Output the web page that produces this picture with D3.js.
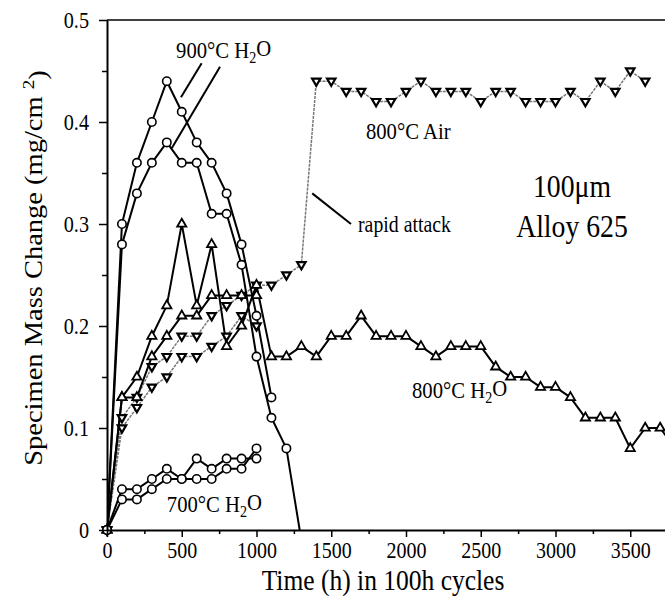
<!DOCTYPE html>
<html>
<head>
<meta charset="utf-8">
<script src="https://cdn.jsdelivr.net/npm/d3@7/dist/d3.min.js"></script>
<style>
  body { margin: 0; background: #fff; }
  svg { display: block; font-family: 'Liberation Serif', 'Times New Roman', serif; }
</style>
</head>
<body>
<div id="container"></div>
<script>
// one cycle = 100 h
const hours = [0, 100, 200, 300, 400, 500, 600, 700, 800, 900, 1000, 1100, 1200, 1300,
  1400, 1500, 1600, 1700, 1800, 1900, 2000, 2100, 2200, 2300, 2400, 2500, 2600, 2700,
  2800, 2900, 3000, 3100, 3200, 3300, 3400, 3500, 3600, 3700, 3800]

const h2o900A = [0, 0.30, 0.36, 0.40, 0.44, 0.41, 0.38, 0.36, 0.33, 0.28, 0.21, 0.13]
const h2o900B = [0, 0.28, 0.33, 0.36, 0.38, 0.36, 0.36, 0.31, 0.31, 0.26, 0.17, 0.11, 0.08, -0.01]
const h2o700A = [0, 0.04, 0.04, 0.05, 0.06, 0.05, 0.07, 0.06, 0.07, 0.07, 0.07]
const h2o700B = [0, 0.03, 0.03, 0.04, 0.05, 0.05, 0.05, 0.05, 0.06, 0.06, 0.08]
const h2o800A = [0, 0.13, 0.15, 0.19, 0.22, 0.30, 0.22, 0.28, 0.18, 0.20, 0.24, 0.17, 0.17,
  0.18, 0.17, 0.19, 0.19, 0.21, 0.19, 0.19, 0.19, 0.18, 0.17, 0.18, 0.18, 0.18, 0.16, 0.15,
  0.15, 0.14, 0.14, 0.13, 0.11, 0.11, 0.11, 0.08, 0.10, 0.10, 0.08]
const h2o800B = [0, 0.13, 0.13, 0.17, 0.19, 0.21, 0.21, 0.23, 0.23, 0.23, 0.23]
const air800A = [0, 0.11, 0.13, 0.16, 0.17, 0.19, 0.19, 0.21, 0.22, 0.23, 0.24, 0.24, 0.25,
  0.26, 0.44, 0.44, 0.43, 0.43, 0.42, 0.42, 0.43, 0.44, 0.43, 0.43, 0.43, 0.42, 0.43, 0.43,
  0.42, 0.42, 0.42, 0.43, 0.42, 0.44, 0.43, 0.45, 0.44]
const air800B = [0, 0.10, 0.12, 0.14, 0.15, 0.17, 0.17, 0.18, 0.19, 0.21, 0.20]

const xTicks = [0, 500, 1000, 1500, 2000, 2500, 3000, 3500]
const xMinor = [250, 750, 1250, 1750, 2250, 2750, 3250, 3750]
const yTicks = [0, 0.1, 0.2, 0.3, 0.4, 0.5]
const yTickLabels = ['0', '0.1', '0.2', '0.3', '0.4', '0.5']
const yMinor = [0.05, 0.15, 0.25, 0.35, 0.45]

var w = 665
var h = 596
var padLeft = 107
var padTop = 20
var padBottom = 530
var sq = 0.88 // the original figure is a bit narrow

const xScale = d3.scaleLinear().domain([0, 3750]).range([padLeft, padLeft + 3750 * 0.1495])
const yScale = d3.scaleLinear().domain([0, 0.5]).range([padBottom, padTop])

var svg = d3.select('#container').append('svg')
  .attr('width', w)
  .attr('height', h)

svg.append('defs').append('clipPath').attr('id', 'plot')
  .append('rect')
  .attr('x', padLeft).attr('y', padTop - 10)
  .attr('width', w - padLeft).attr('height', padBottom - padTop + 10)

// frame: top line
svg.append('line')
  .attr('x1', padLeft).attr('x2', w)
  .attr('y1', padTop).attr('y2', padTop)
  .attr('stroke', '#000').attr('stroke-width', 1.6)

const series = [
  { vals: air800A, mark: 'down', air: true },
  { vals: air800B, mark: 'down', air: true },
  { vals: h2o800A, mark: 'up' },
  { vals: h2o800B, mark: 'up' },
  { vals: h2o900A, mark: 'circle' },
  { vals: h2o900B, mark: 'circle' },
  { vals: h2o700A, mark: 'circle' },
  { vals: h2o700B, mark: 'circle' }
]

const line = d3.line()
  .x((d, i) => xScale(hours[i]))
  .y(d => yScale(d))

const lines = svg.append('g').attr('clip-path', 'url(#plot)')
series.forEach(s => {
  lines.append('path')
    .datum(s.vals)
    .attr('d', line)
    .attr('fill', 'none')
    .attr('stroke', s.air ? '#777' : '#000')
    .attr('stroke-width', s.air ? 1.5 : 2)
    .attr('stroke-dasharray', s.air ? '3,1' : null)
    .attr('stroke-linejoin', 'round')
})

const upTri = 'M0,-5.3L4.6,2.7L-4.6,2.7Z'
const downTri = 'M0,4.6L4.2,-2.6L-4.2,-2.6Z'

series.forEach(s => {
  const pts = s.vals.map((v, i) => [hours[i], v]).filter(p => p[1] >= 0 && xScale(p[0]) < w + 6)
  const g = svg.append('g')
  if (s.mark === 'circle') {
    g.selectAll('circle').data(pts).enter().append('circle')
      .attr('cx', d => xScale(d[0]))
      .attr('cy', d => yScale(d[1]))
      .attr('r', 4.2)
      .attr('fill', '#fff').attr('stroke', '#000').attr('stroke-width', 1.6)
  } else {
    g.selectAll('path').data(pts).enter().append('path')
      .attr('d', s.mark === 'up' ? upTri : downTri)
      .attr('transform', d => 'translate(' + xScale(d[0]) + ',' + yScale(d[1]) + ')')
      .attr('fill', '#fff').attr('stroke', '#000')
      .attr('stroke-width', s.mark === 'up' ? 1.8 : 2.2)
      .attr('stroke-linejoin', 'miter')
  }
})

// axes
const xAxis = svg.append('g')
  .attr('transform', 'translate(0,' + padBottom + ')')
  .call(d3.axisBottom(xScale).tickValues(xTicks).tickSize(7).tickSizeOuter(0).tickFormat(d3.format('d')))
  .attr('font-family', null).attr('font-size', null)
xAxis.select('.domain').attr('stroke-width', 2)
xAxis.selectAll('.tick line').attr('stroke-width', 1.5)
xAxis.selectAll('.tick text')
  .attr('y', 12).attr('dy', '0.71em')
  .attr('transform', 'scale(' + sq + ',1)')
  .style('font-size', '22.7px').attr('fill', '#000')

svg.append('g')
  .attr('transform', 'translate(0,' + padBottom + ')')
  .call(d3.axisBottom(xScale).tickValues(xMinor).tickSize(4).tickFormat(''))
  .call(g => g.select('.domain').remove())
  .selectAll('line').attr('stroke-width', 1.5)

const yAxis = svg.append('g')
  .attr('transform', 'translate(' + padLeft + ',0)')
  .call(d3.axisLeft(yScale).tickValues(yTicks).tickSize(8).tickSizeOuter(0)
    .tickFormat((d, i) => yTickLabels[i]))
  .attr('font-family', null).attr('font-size', null)
yAxis.select('.domain').attr('stroke-width', 2)
yAxis.selectAll('.tick line').attr('stroke-width', 1.5)
yAxis.selectAll('.tick text')
  .attr('x', 0)
  .attr('transform', 'translate(-18,0) scale(' + sq + ',1)')
  .style('font-size', '23px').attr('fill', '#000')

svg.append('g')
  .attr('transform', 'translate(' + padLeft + ',0)')
  .call(d3.axisLeft(yScale).tickValues(yMinor).tickSize(5).tickFormat(''))
  .call(g => g.select('.domain').remove())
  .selectAll('line').attr('stroke-width', 1.5)

// axis titles
svg.append('text')
  .attr('transform', 'translate(383,590) scale(' + sq + ',1)')
  .attr('text-anchor', 'middle')
  .style('font-size', '29px')
  .text('Time (h) in 100h cycles')

const yTitle = svg.append('text')
  .attr('transform', 'translate(42,268) scale(' + sq + ',1) rotate(-90)')
  .attr('text-anchor', 'middle')
  .style('font-size', '28.5px')
yTitle.append('tspan').text('Specimen Mass Change (mg/cm ')
yTitle.append('tspan').attr('dy', '-0.45em').style('font-size', '19px').text('2')
yTitle.append('tspan').attr('dy', '0.45em').text(')')

// annotations, placed in data units
function note(t, v, size, anchor) {
  return svg.append('text')
    .attr('transform', 'translate(' + xScale(t) + ',' + yScale(v) + ') scale(' + sq + ',1)')
    .attr('text-anchor', anchor || 'start')
    .style('font-size', size + 'px')
}

function h2oNote(t, v, temp) {
  const el = note(t, v, 23.5)
  el.append('tspan').text(temp + '°C H')
  el.append('tspan').attr('dy', '0.3em').style('font-size', '16px').text('2')
  el.append('tspan').attr('dy', '-0.3em').text('O')
}

h2oNote(462, 0.463, '900')
h2oNote(400, 0.0175, '700')
h2oNote(2040, 0.129, '800')
note(1732, 0.383, 23.5).text('800°C Air')
note(1679, 0.292, 22.5).text('rapid attack')
note(3110, 0.326, 31.5, 'middle').text('100μm')
note(3110, 0.287, 31.5, 'middle').text('Alloy 625')

const leaders = [
  [633, 0.4575, 495, 0.4242],
  [756, 0.4542, 433, 0.3742],
  [1373, 0.330, 1632, 0.300]
]
svg.selectAll('.leader').data(leaders).enter().append('line')
  .attr('class', 'leader')
  .attr('x1', d => xScale(d[0])).attr('y1', d => yScale(d[1]))
  .attr('x2', d => xScale(d[2])).attr('y2', d => yScale(d[3]))
  .attr('stroke', '#000').attr('stroke-width', 2)
</script>
</body>
</html>
